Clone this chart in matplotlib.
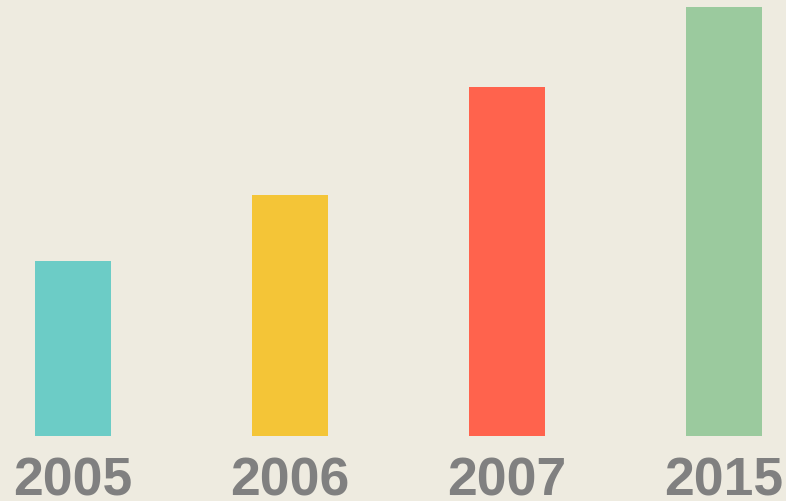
import matplotlib.pyplot as plt

years = ['2005', '2006', '2007', '2015']
values = [175, 241, 349, 429]
colors = ['#6CCCC6', '#F4C537', '#FF634D', '#9BCA9E']

bg = '#EEEBE0'
fig = plt.figure(figsize=(7.86, 5.01), dpi=100, facecolor=bg)
ax = fig.add_axes([0, 65 / 501, 1, 436 / 501])
ax.set_facecolor(bg)

x = range(len(years))
ax.bar(x, values, width=0.35, color=colors)

# year labels under each bar
for i, label in enumerate(years):
    ax.text(i, -59, label, ha='center', va='baseline', fontsize=38.5,
            fontweight='bold', color='#808080', family='Liberation Sans',
            clip_on=False)

ax.set_xlim(-0.3364, 3.2857)
ax.set_ylim(0, 436)
ax.axis('off')

fig.savefig('out.png', dpi=100, facecolor=bg)
